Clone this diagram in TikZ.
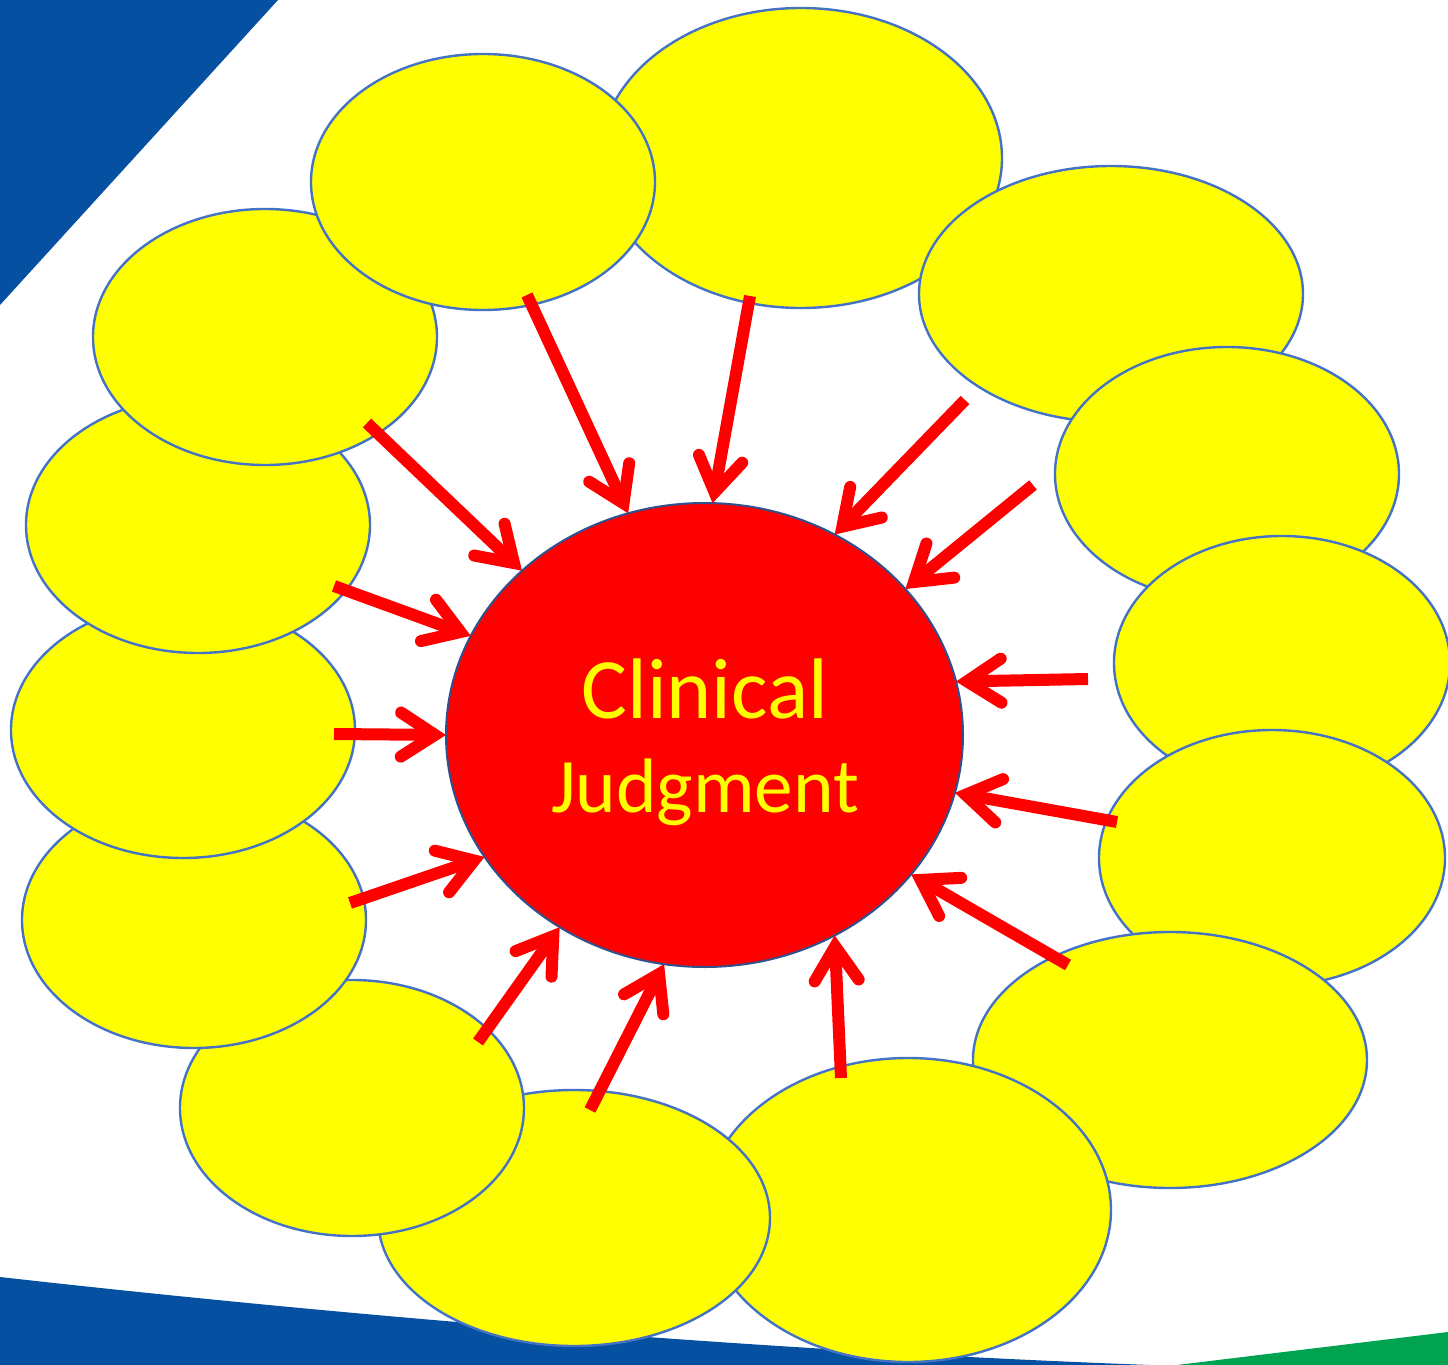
\documentclass[tikz,border=0pt]{standalone}
\usepackage{fontspec}
\setmainfont{Carlito}
\usetikzlibrary{arrows.meta,shapes.geometric}
\definecolor{bgblue}{RGB}{5,80,160}
\definecolor{bggreen}{RGB}{0,163,80}
\definecolor{bubline}{RGB}{68,114,196}
\definecolor{circline}{RGB}{47,82,143}
\definecolor{bubfill}{RGB}{255,255,0}
\definecolor{arrred}{RGB}{255,0,0}
\tikzset{
  bub/.style 2 args={ellipse, draw=bubline, fill=bubfill, line width=1.2pt,
    minimum width=#1pt, minimum height=#2pt, inner sep=0pt, outer sep=0pt},
  hub/.style={ellipse, draw=circline, fill=arrred, line width=1pt,
    minimum width=258.5pt, minimum height=232pt, inner sep=0pt, outer sep=0pt},
  arr/.style={draw=arrred, line width=6pt, line cap=butt,
    -{Straight Barb[length=17pt,width=22pt,line cap=round,line join=miter]}},
  lbl/.style={text=bubfill, anchor=base, inner sep=0pt},
}
\begin{document}
\begin{tikzpicture}[x=0.5pt,y=-0.5pt]
\useasboundingbox (0,0) rectangle (1448,1365);
\clip (0,0) rectangle (1448,1365);
% background bands
\fill[bgblue] (0,0) -- (278,0) -- (0,305) -- cycle;
\fill[bgblue] (0,1277) .. controls (400,1322) and (800,1352) .. (1150,1365) -- (0,1365) -- cycle;
\fill[bggreen] (1177,1365) -- (1448,1332) -- (1448,1365) -- cycle;
% bubbles
\node[bub={201}{150}] (e1) at (801,158) {};
\node[bub={192}{128}] (e14) at (1111,294) {};
\node[bub={172}{127}] (e13) at (1227,474) {};
\node[bub={168}{127}] (e12) at (1282,663) {};
\node[bub={173}{128}] (e11) at (1272,858) {};
\node[bub={197}{128}] (e10) at (1170,1060) {};
\node[bub={203}{152}] (e9) at (908,1210) {};
\node[bub={196}{128}] (e8) at (574,1218) {};
\node[bub={172}{128}] (e7) at (352,1108) {};
\node[bub={172}{128}] (e6) at (194,920) {};
\node[bub={172}{128}] (e5) at (183,730) {};
\node[bub={172}{128}] (e4) at (198,525) {};
\node[bub={172}{128}] (e3) at (265,337) {};
\node[bub={172}{128}] (e2) at (483,182) {};
% centre
\node[hub] (cj) at (704.5,735) {};
\node[lbl, font=\fontsize{43}{50}\selectfont] (l1) at (705,718) {Clinical};
\node[lbl, font=\fontsize{38.6}{46}\selectfont] (l2) at (705,812) {Judgment};
% arrow tails
\coordinate (t1) at (527,295);
\coordinate (t2) at (750,296);
\coordinate (t3) at (965,400);
\coordinate (t4) at (1033,485);
\coordinate (t5) at (1088,679);
\coordinate (t6) at (1117,822);
\coordinate (t7) at (1068,965);
\coordinate (t8) at (841,1078);
\coordinate (t9) at (590,1110);
\coordinate (t10) at (478,1042);
\coordinate (t11) at (350,903);
\coordinate (t12) at (334,734);
\coordinate (t13) at (334,586);
\coordinate (t14) at (367,423);
% arrows
\draw[arr] (t1) -- (cj.109.3);
\draw[arr] (t2) -- (cj.88.9);
\draw[arr] (t3) -- (cj.57.9);
\draw[arr] (t4) -- (cj.36.2);
\draw[arr] (t5) -- (cj.12.65);
\draw[arr] (t6) -- (cj.-13.2);
\draw[arr] (t7) -- (cj.-34.9);
\draw[arr] (t8) -- (cj.-57.9);
\draw[arr] (t9) -- (cj.260.1);
\draw[arr] (t10) -- (cj.233.5);
\draw[arr] (t11) -- (cj.209.6);
\draw[arr] (t12) -- (cj.180);
\draw[arr] (t13) -- (cj.157.2);
\draw[arr] (t14) -- (cj.138.4);
\end{tikzpicture}
\end{document}
